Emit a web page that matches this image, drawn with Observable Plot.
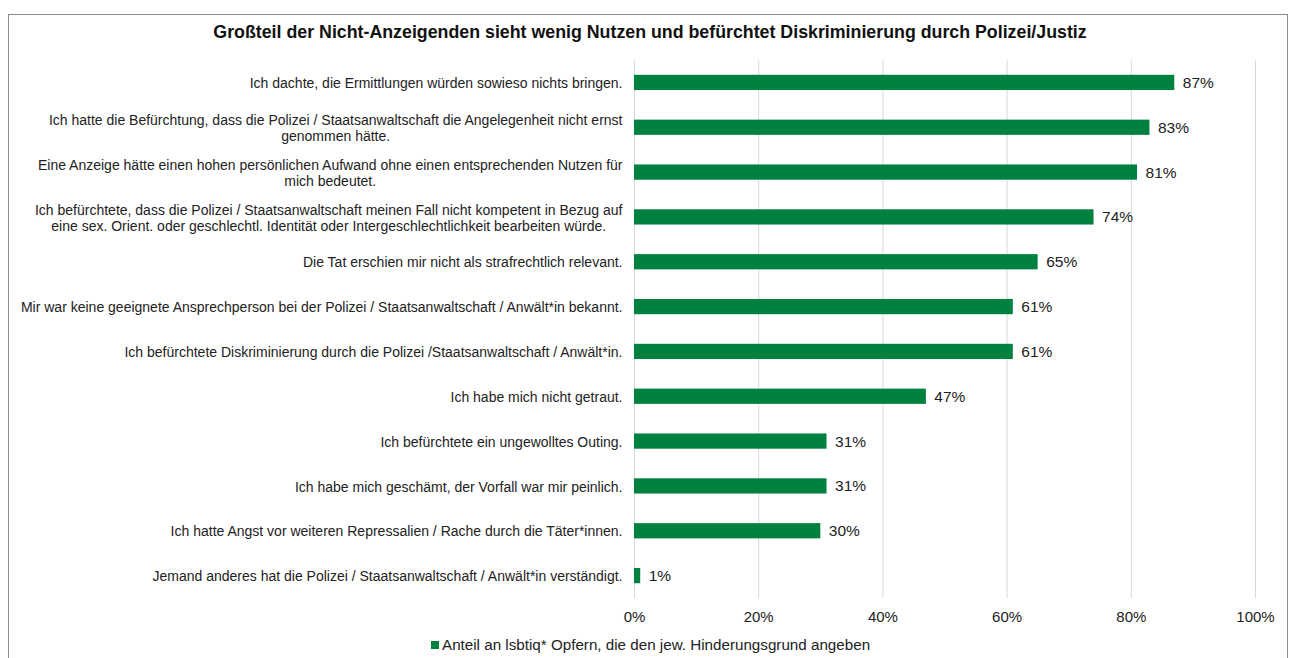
<!DOCTYPE html>
<html><head><meta charset="utf-8">
<script src="https://cdn.jsdelivr.net/npm/d3@7"></script>
<script src="https://cdn.jsdelivr.net/npm/@observablehq/plot@0.6"></script>
<style>
body{margin:0;background:#fff;font-family:"Liberation Sans",Arial,sans-serif;}
#frame{position:absolute;left:8px;top:14px;width:1280px;height:700px;border:1px solid #8c8c8c;box-sizing:border-box;}
#title{position:absolute;left:0;top:22px;width:1300px;text-align:center;font-weight:bold;font-size:17.8px;color:#111;}
#chart{position:absolute;left:0;top:0;}
#legend{position:absolute;left:431px;top:636px;font-size:15.2px;color:#222;display:flex;align-items:center;}
#legend span.sw{display:inline-block;width:8px;height:8px;background:#00813f;margin-right:3px;}
</style></head>
<body>
<div id="frame"></div>
<div id="title">Großteil der Nicht-Anzeigenden sieht wenig Nutzen und befürchtet Diskriminierung durch Polizei/Justiz</div>
<div id="chart"></div>
<div id="legend"><span class="sw"></span>Anteil an lsbtiq* Opfern, die den jew. Hinderungsgrund angeben</div>
<script>
const categories = [
  "Ich dachte, die Ermittlungen würden sowieso nichts bringen.",
  "Ich hatte die Befürchtung, dass die Polizei / Staatsanwaltschaft die Angelegenheit nicht ernst\ngenommen hätte.",
  "Eine Anzeige hätte einen hohen persönlichen Aufwand ohne einen entsprechenden Nutzen für\nmich bedeutet.",
  "Ich befürchtete, dass die Polizei / Staatsanwaltschaft meinen Fall nicht kompetent in Bezug auf\neine sex. Orient. oder geschlechtl. Identität oder Intergeschlechtlichkeit bearbeiten würde.",
  "Die Tat erschien mir nicht als strafrechtlich relevant.",
  "Mir war keine geeignete Ansprechperson bei der Polizei / Staatsanwaltschaft / Anwält*in bekannt.",
  "Ich befürchtete Diskriminierung durch die Polizei /Staatsanwaltschaft / Anwält*in.",
  "Ich habe mich nicht getraut.",
  "Ich befürchtete ein ungewolltes Outing.",
  "Ich habe mich geschämt, der Vorfall war mir peinlich.",
  "Ich hatte Angst vor weiteren Repressalien / Rache durch die Täter*innen.",
  "Jemand anderes hat die Polizei / Staatsanwaltschaft / Anwält*in verständigt."
];
const values = [87, 83, 81, 74, 65, 61, 61, 47, 31, 31, 30, 1];
const xTicks = [0, 20, 40, 60, 80, 100];

const data = categories.map((c, i) => ({cat: c, v: values[i]}));

const chart = Plot.plot({
  width: 1291,
  height: 630,
  marginTop: 60,
  marginBottom: 32,
  marginLeft: 634,
  marginRight: 36,
  style: {fontFamily: '"Liberation Sans", Arial, sans-serif', background: "transparent"},
  x: {domain: [0, 100], ticks: xTicks, label: null},
  y: {domain: categories, paddingInner: 0.66, paddingOuter: 0.33, round: false, label: null},
  marks: [
    Plot.gridX(xTicks, {stroke: "#d9d9d9", strokeOpacity: 1, strokeWidth: 1}),
    Plot.axisX(xTicks, {tickSize: 0, tickPadding: 13, fontSize: 15, fill: "#222", label: null, tickFormat: d => d + "%"}),
    Plot.axisY({tickSize: 0, tickPadding: 12, fontSize: 14, fill: "#222", lineHeight: 1.15, label: null}),
    Plot.barX(data, {x: "v", y: "cat", fill: "#00813f"}),
    Plot.text(data, {x: "v", y: "cat", text: d => d.v + "%", textAnchor: "start", dx: 8, fontSize: 15.5, fill: "#222"})
  ]
});
document.getElementById("chart").appendChild(chart);

// Center multi-line category labels within their right-aligned block (anchor stays "end")
chart.querySelectorAll('g[aria-label="y-axis tick label"] text').forEach(t => {
  const spans = Array.from(t.querySelectorAll("tspan"));
  if (spans.length > 1) {
    const widths = spans.map(s => s.getComputedTextLength());
    const W = Math.max(...widths);
    spans.forEach((s, i) => {
      const x0 = parseFloat(s.getAttribute("x") || "0");
      s.setAttribute("x", x0 - (W - widths[i]) / 2);
    });
  }
});
</script>
</body></html>
